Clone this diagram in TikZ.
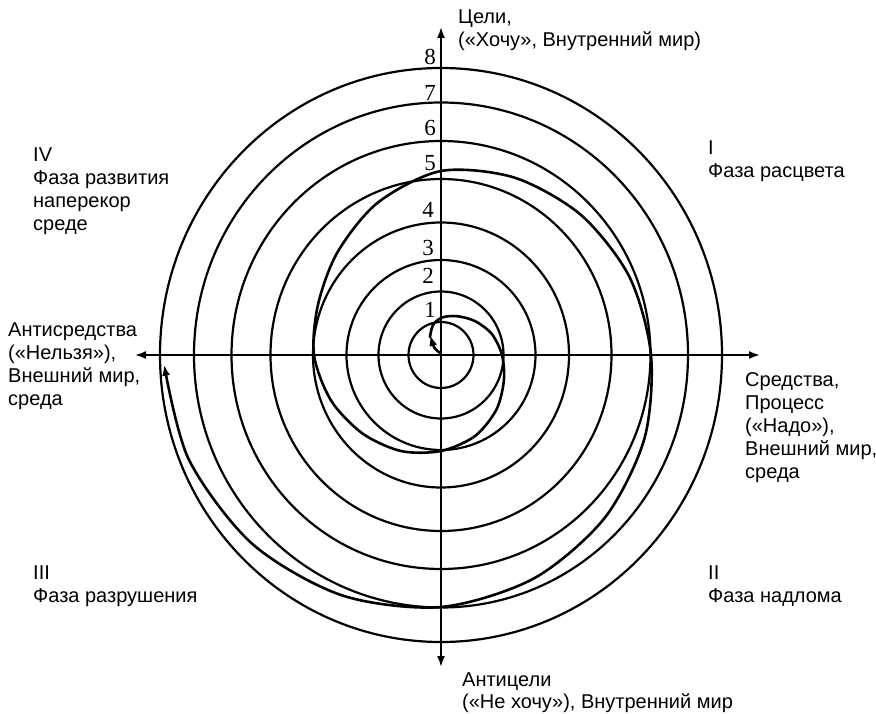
\documentclass[tikz,border=0pt]{standalone}
\usepackage{fontspec}
\setmainfont{Liberation Sans}
\newfontfamily\digfont{Liberation Serif}
\usetikzlibrary{arrows.meta}
\begin{document}
\begin{tikzpicture}[x=1pt,y=-1pt,
  ring/.style={line width=2.2pt},
  axisline/.style={line width=1.8pt},
  spiralline/.style={line width=2.6pt, line cap=round, line join=round},
  lbl/.style={font=\fontsize{20}{23}\selectfont, align=left, anchor=north west, inner sep=0pt},
  num/.style={font=\digfont\fontsize{23}{23}\selectfont, inner sep=0pt},
  tip/.style={-{Latex[length=11pt,width=8pt]}}]
\useasboundingbox (0,0) rectangle (876,714);
\fill[white] (0,0) rectangle (876,714);
\coordinate (O) at (441,355);
\coordinate (T) at (441,27);
\coordinate (B) at (441,667);
\coordinate (L) at (135,355);
\coordinate (R) at (760,355);
% rings
\foreach \xr/\yr in {32.5/33,62.5/63.5,94.5/95,128/132.5,170.5/176,209.5/214,247/252.5,281/287}
  \draw[ring] (O) ellipse[x radius=\xr pt, y radius=\yr pt];
% axes
\draw[axisline,{Latex[length=11pt,width=8pt]}-{Latex[length=11pt,width=8pt]}] (L) -- (R);
\draw[axisline,{Latex[length=11pt,width=8pt]}-{Latex[length=11pt,width=8pt]}] (T) -- (B);
% spiral
\begin{scope}[shift={(O)}]
\draw[spiralline,tip] (-1,-2) .. controls (-7,-7) .. (-11,-20);
\draw[spiralline,tip] plot[smooth] coordinates {
 (-11,-18) (-8,-30) (1,-37.5)
 (-67.5:42) (-45:48) (-22.5:55) (0:61) (22.5:68) (45:78) (67.5:88) (90:96)
 (112.5:104) (135:111) (157.5:119) (180:127) (202.5:133) (225:146) (247.5:165)
 (270:184) (292.5:192) (315:198) (337.5:204) (360:210) (382.5:220) (405:231)
 (427.5:242) (450:252) (472.5:260) (495:267) (517.5:273) (538:277)};
\end{scope}
% numbers
\node[num] (n1) at (430,310) {1};
\node[num] (n2) at (428,276) {2};
\node[num] (n3) at (428,248) {3};
\node[num] (n4) at (428,210) {4};
\node[num] (n5) at (430,163) {5};
\node[num] (n6) at (430,128) {6};
\node[num] (n7) at (430,93) {7};
\node[num] (n8) at (430,57) {8};
% labels
\node[lbl] (top) at (458,10) {Цели,\\(«Хочу», Внутренний мир)};
\node[lbl] (q4) at (33,148) {IV\\Фаза развития\\наперекор\\среде};
\node[lbl] (q1) at (708,141) {I\\Фаза расцвета};
\node[lbl] (left) at (8,323) {Антисредства\\(«Нельзя»),\\Внешний мир,\\среда};
\node[lbl] (right) at (745,372) {Средства,\\Процесс\\(«Надо»),\\Внешний мир,\\среда};
\node[lbl] (q3) at (33,566) {III\\Фаза разрушения};
\node[lbl] (q2) at (708,566) {II\\Фаза надлома};
\node[lbl,font=\fontsize{20}{22}\selectfont] (bot) at (462,673) {Антицели\\(«Не хочу»), Внутренний мир};
\end{tikzpicture}
\end{document}
